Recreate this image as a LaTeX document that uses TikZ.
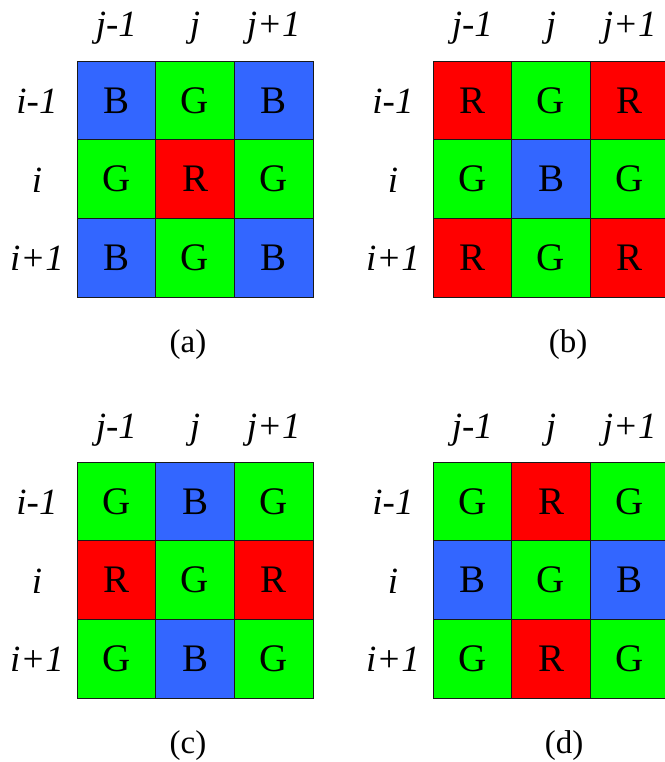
\documentclass[tikz,border=0pt]{standalone}
\usepackage{fontspec}
\setmainfont{Liberation Serif}
\newfontfamily\gridfont{Liberation Serif}
\usetikzlibrary{positioning}

\definecolor{bayerR}{RGB}{255,0,0}
\definecolor{bayerG}{RGB}{0,255,0}
\definecolor{bayerB}{RGB}{51,102,255}

% one 3x3 patch: name, left, top, rows, caption, caption x
\newcommand{\bayergrid}[6]{%
  \foreach \row [count=\r] in {#4} {
    \foreach \c [count=\k] in \row {
      \node[cell, fill=bayer\c] (#1-\r-\k) at ({#2+(\k-0.5)*78.7},{#3+(\r-0.5)*78.7}) {\c};
    }
  }
  \node[lbl] (#1-c1) at ({#2+0.5*78.7},{#3-24}) {j-1};
  \node[lbl] (#1-c2) at ({#2+1.5*78.7},{#3-24}) {j};
  \node[lbl] (#1-c3) at ({#2+2.5*78.7},{#3-24}) {j+1};
  \node[lbl] (#1-r1) at ({#2-40},{#3+0.5*78.7+13}) {i-1};
  \node[lbl] (#1-r2) at ({#2-40},{#3+1.5*78.7+13}) {i};
  \node[lbl] (#1-r3) at ({#2-40},{#3+2.5*78.7+13}) {i+1};
  \node[caption] (#1-cap) at ({#6},{#3+236+55}) {#5};
}

\begin{document}
\begin{tikzpicture}[x=1pt, y=-1pt]
    \tikzset{cell/.style={draw=black!90, line width=0.9pt, minimum size=78.7pt, inner sep=0pt, font=\gridfont\fontsize{39}{42}\selectfont}}
    \tikzset{lbl/.style={anchor=base, inner sep=0pt, font=\gridfont\fontsize{37}{40}\selectfont\itshape}}
    \tikzset{caption/.style={anchor=base, inner sep=0pt, font=\gridfont\fontsize{33}{36}\selectfont}}

    \useasboundingbox (0,0) rectangle (664,762);

    \bayergrid{a}{77}{61}{{B,G,B},{G,R,G},{B,G,B}}{(a)}{188}
    \bayergrid{b}{433}{61}{{R,G,R},{G,B,G},{R,G,R}}{(b)}{568}
    \bayergrid{c}{77}{462}{{G,B,G},{R,G,R},{G,B,G}}{(c)}{188}
    \bayergrid{d}{433}{462}{{G,R,G},{B,G,B},{G,R,G}}{(d)}{564}
\end{tikzpicture}
\end{document}
